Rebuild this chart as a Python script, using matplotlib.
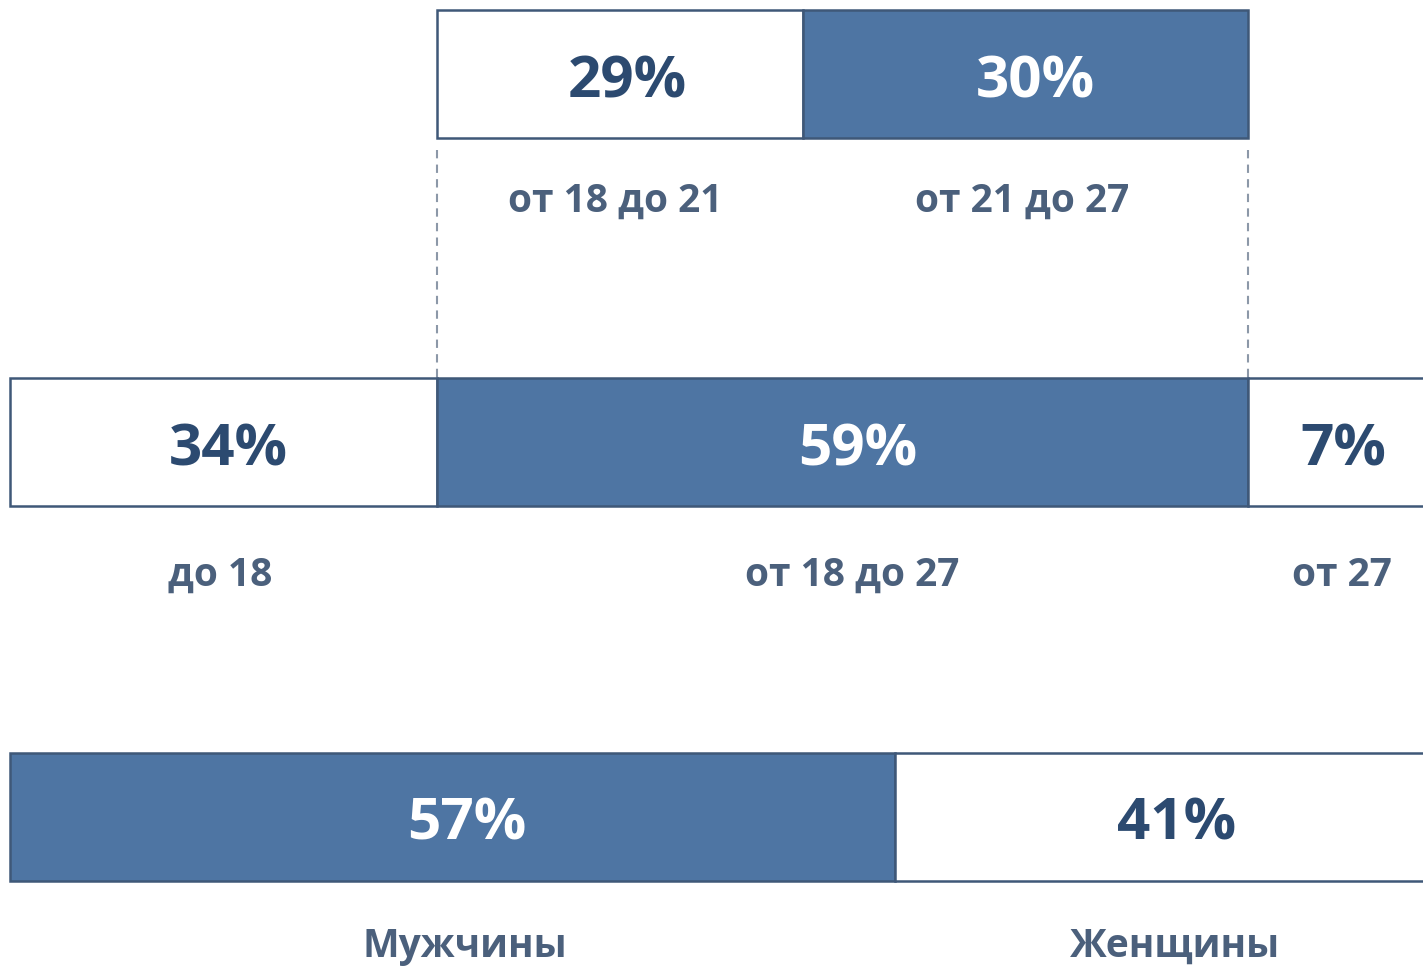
import matplotlib
matplotlib.use("Agg")
import matplotlib.pyplot as plt

# ---- data ----
top_values = [29, 30]
top_labels = ["от 18 до 21", "от 21 до 27"]
mid_values = [34, 59, 7]
mid_labels = ["до 18", "от 18 до 27", "от 27"]
bot_values = [57, 41]
bot_labels = ["Мужчины", "Женщины"]

# ---- layout (pixel units of the canvas) ----
W, H = 1423, 966
BLUE = "#4E75A3"
EDGE = "#3F5878"
VAL_DARK = "#2C4A70"
CAT = "#4B607C"

rows = [
    # values, labels, segment widths (layout), left start, bar center y, label y, fills
    (top_values, top_labels, [366, 445], 437, 74, 201, ["white", BLUE]),
    (mid_values, mid_labels, [427, 811, 260], 10, 442, 575, ["white", BLUE, "white"]),
    (bot_values, bot_labels, [885, 700], 10, 817, 946, [BLUE, "white"]),
]
BAR_H = 128
label_offsets = {  # horizontal nudges of (value, label) text relative to segment centre
    0: [(7, -5), (10, -3)],
    1: [(5, -3), (15, 10), (8, 6)],
    2: [(14, 12), (18, 16)],
}

fig = plt.figure(figsize=(W / 100, H / 100), dpi=100)
ax = fig.add_axes([0, 0, 1, 1])
ax.set_xlim(0, W)
ax.set_ylim(H, 0)
ax.axis("off")

font = ["Open Sans", "DejaVu Sans"]

for ri, (vals, labs, widths, start, yc, ly, fills) in enumerate(rows):
    left = start
    for si, (v, lab, w, fc) in enumerate(zip(vals, labs, widths, fills)):
        ax.barh(yc, w, left=left, height=BAR_H, color=fc, edgecolor=EDGE,
                linewidth=1.8, zorder=2)
        vis_w = min(w, W - left)
        cx = left + vis_w / 2
        dx_val, dx_lab = label_offsets[ri][si]
        ax.text(cx + dx_val, yc + 8, f"{v}%", ha="center", va="center",
                fontsize=42, fontweight="bold", family=font,
                color="white" if fc == BLUE else VAL_DARK, zorder=3)
        ax.text(cx + dx_lab, ly, lab, ha="center", va="center",
                fontsize=28, fontweight="bold", family=font, color=CAT, zorder=3)
        left += w

# dashed connectors between top bar and middle bar
for x in (437, 437 + 366 + 445):
    ax.plot([x, x], [150, 378], color="#8C98A8", linestyle=(0, (4, 3)),
            linewidth=1.5, zorder=1)

fig.savefig("out.png", dpi=100, facecolor="white")
